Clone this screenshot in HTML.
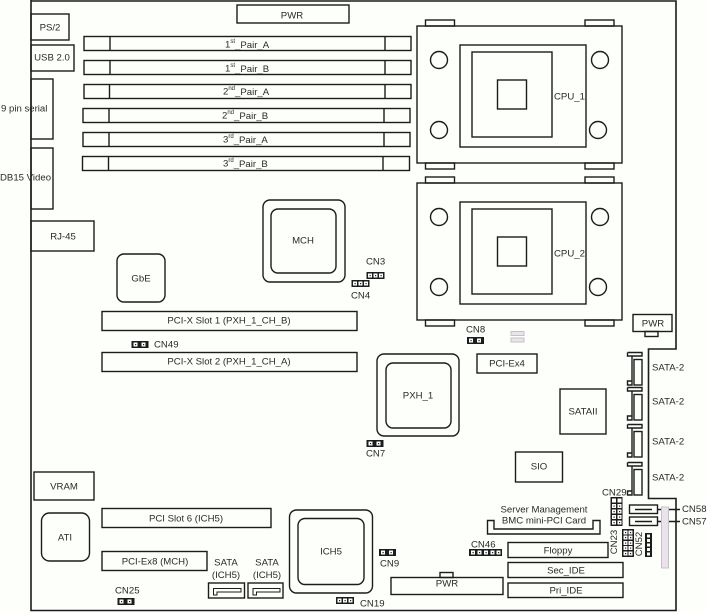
<!DOCTYPE html>
<html>
<head>
<meta charset="utf-8">
<style>
html,body{margin:0;padding:0;background:#fdfffb;}
svg{display:block;}
text{font-family:"Liberation Sans",Arial,sans-serif;font-size:9.6px;fill:#2a2a2a;}
.t text{transform:translateY(0.8px);}
.m{text-anchor:middle;dominant-baseline:central;}
.l{dominant-baseline:central;}
.s{fill:none;stroke:#1c1c1c;stroke-width:1.4;}
.h{fill:#1c1c1c;stroke:none;}
.w{fill:#fff;stroke:none;}
.g{fill:#ebe3ec;stroke:#c4c0c8;stroke-width:1;}
</style>
</head>
<body>
<svg width="707" height="612" viewBox="0 0 707 612" xmlns="http://www.w3.org/2000/svg">
<defs>
<g id="pin"><rect class="w" x="0" y="0" width="4" height="4"/><rect class="h" x="1.5" y="1.5" width="1.2" height="1.2"/></g>
<g id="pn"><rect class="w" x="0" y="0" width="3" height="3"/></g>
<g id="h2"><rect class="h" x="0" y="0" width="17" height="7"/><use href="#pin" x="2" y="1.5"/><use href="#pin" x="10" y="1.5"/></g>
<g id="h3"><rect class="h" x="0" y="0" width="18" height="7"/><use href="#pin" x="1.5" y="1.5"/><use href="#pin" x="7" y="1.5"/><use href="#pin" x="12.5" y="1.5"/></g>
<g id="cpu" class="s">
<rect x="417" y="26" width="205" height="137"/>
<rect x="425.500" y="20" width="29" height="6"/><rect x="585" y="20" width="29" height="6"/>
<rect x="425.500" y="163" width="29" height="6"/><rect x="585" y="163" width="29" height="6"/>
<rect x="460" y="45" width="126" height="102"/>
<rect x="472" y="52" width="80" height="85"/>
<rect x="497.500" y="80" width="29" height="29"/>
<circle cx="439" cy="60" r="8.500"/><circle cx="600" cy="60" r="8.500"/>
<circle cx="439" cy="130" r="8.500"/><circle cx="598" cy="130" r="8.500"/>
</g>
<g id="sata" class="s">
<path d="M627.500 352.500H642V356H632V381.500V385H627.500V381H632M627.500 352.500V356H632"/>
<rect x="634" y="359.500" width="8" height="25.500"/>
</g>
</defs>

<rect width="707" height="612" fill="#fdfffb"/>

<!-- board outline -->
<path class="s" style="stroke-width:1.600" d="M31 0V610.500H676V498.500H648.500V349H676V1H31"/>

<g class="s">
<rect x="31" y="14" width="38" height="26"/>
<rect x="31" y="45" width="43" height="26"/>
<rect x="31" y="79" width="22" height="60"/>
<rect x="31" y="148" width="22" height="61"/>
<rect x="31" y="221" width="63" height="30"/>
<rect x="237" y="5" width="112" height="18"/>
</g>

<!-- DIMMs -->
<g class="s">
<rect x="84" y="36.500" width="327" height="14"/><path d="M110 36.500V50.500M385 36.500V50.500"/>
<rect x="84" y="60.500" width="327" height="14"/><path d="M110 60.500V74.500M385 60.500V74.500"/>
<rect x="84" y="84.500" width="327" height="14"/><path d="M109.500 84.500V98.500M385 84.500V98.500"/>
<rect x="83" y="108.500" width="327" height="14"/><path d="M109 108.500V122.500M384 108.500V122.500"/>
<rect x="83" y="132.500" width="327" height="14"/><path d="M109 132.500V146.500M384 132.500V146.500"/>
<rect x="82.500" y="156.500" width="327" height="14"/><path d="M108.500 156.500V170.500M383 156.500V170.500"/>
</g>

<use href="#cpu"/>
<use href="#cpu" y="157"/>

<g class="s">
<rect x="633" y="314.500" width="39" height="17"/>
<rect x="645" y="331.500" width="13" height="5"/>
<rect x="263" y="200" width="82" height="82" rx="7"/>
<rect x="271" y="209" width="65" height="64" rx="7"/>
<rect x="117" y="254" width="48" height="48" rx="7"/>
<rect x="102" y="311.500" width="255" height="19"/>
<rect x="102" y="352.500" width="255" height="19"/>
<rect x="377" y="354" width="82" height="82" rx="7"/>
<rect x="386" y="363" width="65" height="65" rx="7"/>
<rect x="477" y="354" width="60" height="19"/>
<rect x="560" y="389" width="46" height="45"/>
<rect x="515.500" y="452" width="47" height="30"/>
</g>

<rect class="g" x="511" y="331.500" width="13" height="4"/>
<rect class="g" x="511" y="338" width="13" height="4"/>

<use href="#h3" x="366.500" y="272"/>
<use href="#h3" x="351.500" y="280"/>
<use href="#h2" x="131.500" y="341"/>
<use href="#h2" x="366.500" y="440"/>
<use href="#h2" x="467" y="337"/>
<use href="#h2" x="117.500" y="598"/>
<use href="#h2" x="379" y="549"/>
<use href="#h3" x="336" y="597"/>

<rect class="h" x="469" y="549" width="33" height="7"/>
<use href="#pin" x="471" y="550.500"/><use href="#pin" x="477.500" y="550.500"/><use href="#pin" x="484" y="550.500"/><use href="#pin" x="490.500" y="550.500"/><use href="#pin" x="496.500" y="550.500"/>

<use href="#sata"/>
<use href="#sata" y="35"/>
<use href="#sata" y="72"/>
<use href="#sata" y="110"/>

<g class="s">
<rect x="34" y="472" width="60" height="28"/>
<rect x="41.500" y="513" width="48" height="48" rx="8"/>
<rect x="102" y="508.500" width="169" height="19"/>
<rect x="102" y="551.500" width="105" height="19"/>
<rect x="208.500" y="583" width="36" height="15"/>
<path d="M213.500 595V588.500H241V592H217V595Z" style="stroke-width:1"/>
<rect x="248" y="583" width="35" height="15"/>
<path d="M253 595V588.500H280V592H256.500V595Z" style="stroke-width:1"/>
<rect x="289.500" y="510" width="83" height="83" rx="7"/>
<rect x="298" y="518.500" width="66" height="66" rx="7"/>
<rect x="391" y="577.500" width="112" height="17"/>
<rect x="440" y="572.500" width="13" height="5"/>
<rect x="508" y="542.500" width="100" height="15"/>
<rect x="508" y="562.500" width="115" height="15"/>
<rect x="508" y="583" width="115" height="14.500"/>
<path d="M487.500 520.500H494V529H593V520.500H600V534H487.500Z"/>
<rect x="629.500" y="505" width="28" height="8.500"/>
<path d="M635 509.500H652M658 509.500H680"/>
<rect x="629.500" y="517" width="28" height="8.500"/>
<path d="M635 521.500H652M658 521.500H680"/>
</g>

<rect class="g" x="661.500" y="507" width="7" height="61"/>

<!-- CN29 -->
<rect class="h" x="610.500" y="497" width="12" height="29"/>
<rect class="w" x="612" y="498.500" width="4" height="4"/><rect class="w" x="617.500" y="498.500" width="4" height="4"/>
<use href="#pin" x="612" y="504"/><use href="#pin" x="617.500" y="504"/>
<use href="#pin" x="612" y="509.500"/><use href="#pin" x="617.500" y="509.500"/>
<use href="#pin" x="612" y="515"/><use href="#pin" x="617.500" y="515"/>
<use href="#pin" x="612" y="520.500"/><use href="#pin" x="617.500" y="520.500"/>

<!-- CN23 -->
<rect class="h" x="622" y="529" width="12" height="28"/>
<use href="#pin" x="623.500" y="530.500"/><use href="#pin" x="628.500" y="530.500"/>
<use href="#pin" x="623.500" y="535.500"/><use href="#pin" x="628.500" y="535.500"/>
<use href="#pin" x="623.500" y="541"/><use href="#pin" x="628.500" y="541"/>
<use href="#pin" x="623.500" y="546"/><use href="#pin" x="628.500" y="546"/>
<use href="#pin" x="623.500" y="551.500"/><use href="#pin" x="628.500" y="551.500"/>

<!-- CN52 -->
<rect class="h" x="645" y="533" width="7" height="24"/>
<use href="#pn" x="647" y="534.500"/>
<use href="#pn" x="647" y="539"/>
<use href="#pn" x="647" y="543.500"/>
<use href="#pn" x="647" y="548"/>
<use href="#pn" x="647" y="552.500"/>

<!-- all labels -->
<g class="t">
<text class="m" x="50" y="27">PS/2</text>
<text class="m" x="52" y="57">USB 2.0</text>
<text class="l" x="1" y="108">9 pin serial</text>
<text class="l" x="0" y="177">DB15 Video</text>
<text class="m" x="63" y="236">RJ-45</text>
<text class="m" x="292" y="15">PWR</text>
<text class="l" x="225" y="44">1<tspan font-size="6" dy="-3">st</tspan><tspan dy="3">_Pair_A</tspan></text>
<text class="l" x="225" y="68">1<tspan font-size="6" dy="-3">st</tspan><tspan dy="3">_Pair_B</tspan></text>
<text class="l" x="223" y="91">2<tspan font-size="6" dy="-3">nd</tspan><tspan dy="3">_Pair_A</tspan></text>
<text class="l" x="222" y="115">2<tspan font-size="6" dy="-3">nd</tspan><tspan dy="3">_Pair_B</tspan></text>
<text class="l" x="223" y="139">3<tspan font-size="6" dy="-3">rd</tspan><tspan dy="3">_Pair_A</tspan></text>
<text class="l" x="223" y="163">3<tspan font-size="6" dy="-3">rd</tspan><tspan dy="3">_Pair_B</tspan></text>
<text class="l" x="554" y="96">CPU_1</text>
<text class="l" x="554" y="253">CPU_2</text>
<text class="m" x="653" y="323">PWR</text>
<text class="m" x="303" y="240">MCH</text>
<text class="m" x="141" y="278">GbE</text>
<text class="m" x="229" y="320">PCI-X Slot 1 (PXH_1_CH_B)</text>
<text class="m" x="229" y="361">PCI-X Slot 2 (PXH_1_CH_A)</text>
<text class="m" x="418" y="395">PXH_1</text>
<text class="m" x="507" y="363">PCI-Ex4</text>
<text class="m" x="583" y="411">SATAII</text>
<text class="m" x="539" y="466">SIO</text>
<text class="l" x="366" y="261">CN3</text>
<text class="l" x="351" y="295">CN4</text>
<text class="l" x="154" y="344">CN49</text>
<text class="l" x="366" y="453">CN7</text>
<text class="l" x="466" y="329">CN8</text>
<text class="l" x="115" y="590">CN25</text>
<text class="l" x="380" y="563">CN9</text>
<text class="l" x="360" y="603">CN19</text>
<text class="l" x="471" y="544">CN46</text>
<text class="l" x="652" y="367">SATA-2</text>
<text class="l" x="652" y="401">SATA-2</text>
<text class="l" x="652" y="441">SATA-2</text>
<text class="l" x="652" y="477">SATA-2</text>
<text class="m" x="64" y="486">VRAM</text>
<text class="m" x="65" y="537">ATI</text>
<text class="m" x="186" y="518">PCI Slot 6 (ICH5)</text>
<text class="m" x="155" y="561">PCI-Ex8 (MCH)</text>
<text class="m" x="226" y="562">SATA</text>
<text class="m" x="226" y="574.500">(ICH5)</text>
<text class="m" x="267" y="562">SATA</text>
<text class="m" x="267" y="574.500">(ICH5)</text>
<text class="m" x="331" y="551">ICH5</text>
<text class="m" x="447" y="583">PWR</text>
<text class="m" x="544" y="509">Server Management</text>
<text class="m" x="544" y="520">BMC mini-PCI Card</text>
<text class="m" x="558" y="550">Floppy</text>
<text class="m" x="566" y="570">Sec_IDE</text>
<text class="m" x="566" y="590">Pri_IDE</text>
<text class="l" x="682" y="508.500">CN58</text>
<text class="l" x="682" y="521">CN57</text>
<text class="l" x="602" y="492">CN29</text>
</g>
<g transform="translate(614.500 542) rotate(-90)"><text class="m" x="0" y="0">CN23</text></g>
<g transform="translate(639.500 544) rotate(-90)"><text class="m" x="0" y="0">CN52</text></g>
</svg>
</body>
</html>
